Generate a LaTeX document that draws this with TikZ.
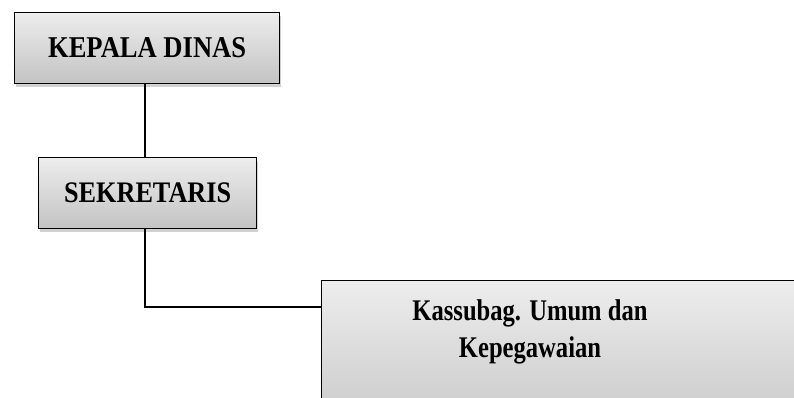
\documentclass[tikz,border=0pt]{standalone}
\usepackage{fontspec}
\setmainfont{Liberation Serif}
\newfontfamily\boxfont[FakeStretch=0.88]{Liberation Serif}
\newfontfamily\boxfontn[FakeStretch=0.82]{Liberation Serif}
\usetikzlibrary{shadows}
\definecolor{boxtop}{HTML}{EDEDED}
\definecolor{boxbot}{HTML}{C3C3C3}
\tikzset{
  orgbox/.style={draw=black, line width=1.3pt, top color=boxtop, bottom color=boxbot,
    inner sep=0pt, anchor=north west,
    drop shadow={shadow xshift=1.5pt, shadow yshift=-3pt, opacity=0.3, fill=black!60}},
  conn/.style={draw=black, line width=1.3pt},
  lbl/.style={inner sep=0pt}
}
\begin{document}
\begin{tikzpicture}[x=1pt, y=-1pt]
\useasboundingbox (0,0) rectangle (794,398);
\clip (0,0) rectangle (794,398);
\node[orgbox, minimum width=265pt, minimum height=71pt] (k1) at (14,12) {};
\node[lbl, font=\boxfont\bfseries\fontsize{30.2}{34}\selectfont] (k1t) at (k1.center) {KEPALA DINAS};
\node[orgbox, minimum width=218pt, minimum height=71pt] (k2) at (38,157) {};
\node[lbl, font=\boxfont\bfseries\fontsize{29.8}{34}\selectfont] (k2t) at (k2.center) {SEKRETARIS};
\node[orgbox, minimum width=540pt, minimum height=170pt] (k3) at (321,280) {};
\node[lbl, anchor=base, font=\boxfontn\bfseries\fontsize{30}{34}\selectfont] (k3a) at (530,320) {Kassubag. Umum dan};
\node[lbl, anchor=base, font=\boxfontn\bfseries\fontsize{30}{34}\selectfont] (k3b) at (530,357) {Kepegawaian};
\coordinate (j) at (145,307);
\draw[conn] (k1.south -| j) -- (k2.north -| j);
\draw[conn] (k2.south -| j) -- (j) -- (k3.west |- j);
\end{tikzpicture}
\end{document}
